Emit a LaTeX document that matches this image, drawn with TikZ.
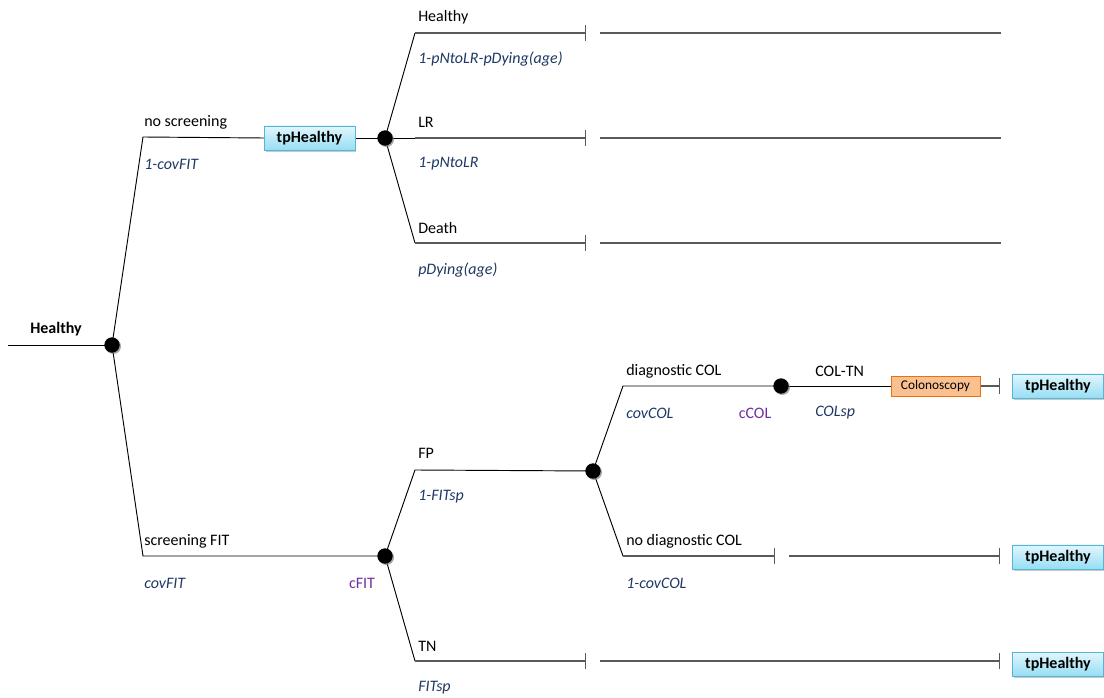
\documentclass[tikz,border=0pt]{standalone}
\usepackage{fontspec}
\setmainfont{Carlito}
\definecolor{probblue}{RGB}{31,56,100}
\definecolor{costpurple}{RGB}{112,48,160}
\definecolor{tpborder}{RGB}{86,180,214}
\definecolor{tptop}{RGB}{226,246,252}
\definecolor{tpbot}{RGB}{150,222,244}
\definecolor{colfill}{RGB}{250,192,144}
\definecolor{colborder}{RGB}{230,112,20}
\usetikzlibrary{arrows.meta, shadows, backgrounds, positioning}

\begin{document}
\begin{tikzpicture}[x=0.75pt, y=-0.75pt,
    font=\fontsize{12}{14}\selectfont,
    chance/.style={circle, fill=black, minimum size=11.5pt, inner sep=0pt,
        drop shadow={shadow xshift=1pt, shadow yshift=-1pt, fill=black!50, opacity=0.7}},
    tpbox/.style={draw=tpborder, top color=tptop, bottom color=tpbot,
        minimum width=68pt, minimum height=18pt, inner sep=0pt, font=\fontsize{12}{14}\selectfont\bfseries,
        drop shadow={shadow xshift=1.2pt, shadow yshift=-1.2pt, fill=black!35, opacity=0.6}},
    colbox/.style={draw=colborder, fill=colfill, minimum width=67pt, minimum height=15pt,
        inner sep=0pt, font=\fontsize{10}{12}\selectfont},
    lbl/.style={anchor=west, inner sep=0pt},
    prob/.style={lbl, text=probblue, font=\fontsize{12}{14}\selectfont\itshape},
    cost/.style={inner sep=0pt, text=costpurple},
    branch/.style={line width=0.7pt, black},
    tail/.style={line width=0.9pt, black!65},
    term/.style={tail, -{Bar[width=12pt, line width=0.9pt]}}
  ]
  \useasboundingbox (0,0) rectangle (1104,698);

  % decision nodes
  \node[chance] (root) at (112,345) {};
  \node[chance] (ns)   at (385,138) {};
  \node[chance] (fit)  at (385,556) {};
  \node[chance] (fp)   at (593,471) {};
  \node[chance] (dcol) at (781,386) {};

  % boxes
  \node[tpbox] (tp1) at (309.5,138) {tpHealthy};
  \node[colbox] (colo) at (935.5,386) {Colonoscopy};
  \node[tpbox] (tp2) at (1058,386) {tpHealthy};
  \node[tpbox] (tp3) at (1058,557) {tpHealthy};
  \node[tpbox] (tp4) at (1058,664) {tpHealthy};

  % knees and tails
  \coordinate (in)  at (8,345);
  \coordinate (kns) at (143,137);
  \coordinate (ksf) at (143,556);
  \coordinate (kh)  at (415,33);
  \coordinate (klr) at (415,138);
  \coordinate (kd)  at (415,243);
  \coordinate (kfp) at (415,470);
  \coordinate (ktn) at (415,661);
  \coordinate (kdc) at (623,386);
  \coordinate (knd) at (623,556);
  \foreach \n/\y in {h/33, lr/138, d/243, tn/661} {
    \coordinate (t\n) at (586,\y);
    \coordinate (r\n) at (600,\y);
  }
  \coordinate (eh)  at (1001,33);
  \coordinate (elr) at (1001,138);
  \coordinate (ed)  at (1001,243);
  \coordinate (etn) at (1000,661);
  \coordinate (tnd) at (775,556);
  \coordinate (rnd) at (789,556);
  \coordinate (end) at (1000,556);
  \coordinate (ecol) at (1000,386);

  % labels
  \node[lbl, font=\fontsize{12}{14}\selectfont\bfseries] (lroot) at (30,329) {Healthy};
  \node[lbl]  (lns)  at (144,122) {no screening};
  \node[prob] (pns)  at (144,164) {1-covFIT};
  \node[lbl]  (lsf)  at (144,541) {screening FIT};
  \node[prob] (psf)  at (144,583) {covFIT};
  \node[cost] (cfit) at (362,583) {cFIT};
  \node[lbl]  (lh)   at (418,17)  {Healthy};
  \node[prob] (ph)   at (418,59)  {1-pNtoLR-pDying(age)};
  \node[lbl]  (llr)  at (418,122) {LR};
  \node[prob] (plr)  at (418,164) {1-pNtoLR};
  \node[lbl]  (ld)   at (418,228) {Death};
  \node[prob] (pd)   at (418,270) {pDying(age)};
  \node[lbl]  (lfp)  at (418,453) {FP};
  \node[prob] (pfp)  at (418,497) {1-FITsp};
  \node[lbl]  (ltn)  at (418,646) {TN};
  \node[prob] (ptn)  at (418,688) {FITsp};
  \node[lbl]  (ldc)  at (626,371) {diagnostic COL};
  \node[prob] (pdc)  at (626,413) {covCOL};
  \node[cost] (ccol) at (755,413) {cCOL};
  \node[lbl]  (lctn) at (815,371) {COL-TN};
  \node[prob] (pctn) at (815,413) {COLsp};
  \node[lbl]  (lnd)  at (626,541) {no diagnostic COL};
  \node[prob] (pnd)  at (626,583) {1-covCOL};

  \begin{scope}[on background layer]
    \draw[branch] (in) -- (root.center);
    \draw[branch] (root.center) -- (kns) -- (tp1.west);
    \draw[branch] (tp1.east) -- (ns.center);
    \draw[branch] (root.center) -- (ksf) -- (fit.center);
    % no screening
    \draw[branch] (ns.center) -- (kh);
    \draw[branch] (ns.center) -- (klr);
    \draw[branch] (ns.center) -- (kd);
    \draw[term] (kh)  -- (th);
    \draw[term] (klr) -- (tlr);
    \draw[term] (kd)  -- (td);
    \draw[tail] (rh)  -- (eh);
    \draw[tail] (rlr) -- (elr);
    \draw[tail] (rd)  -- (ed);
    % screening FIT
    \draw[branch] (fit.center) -- (kfp) -- (fp.center);
    \draw[branch] (fit.center) -- (ktn);
    \draw[term] (ktn) -- (ttn);
    \draw[term] (rtn) -- (etn);
    \draw[branch] (fp.center) -- (kdc) -- (dcol.center);
    \draw[branch] (dcol.center) -- (colo.west);
    \draw[term] (colo.east) -- (ecol);
    \draw[branch] (fp.center) -- (knd);
    \draw[term] (knd) -- (tnd);
    \draw[term] (rnd) -- (end);
  \end{scope}
\end{tikzpicture}
\end{document}
